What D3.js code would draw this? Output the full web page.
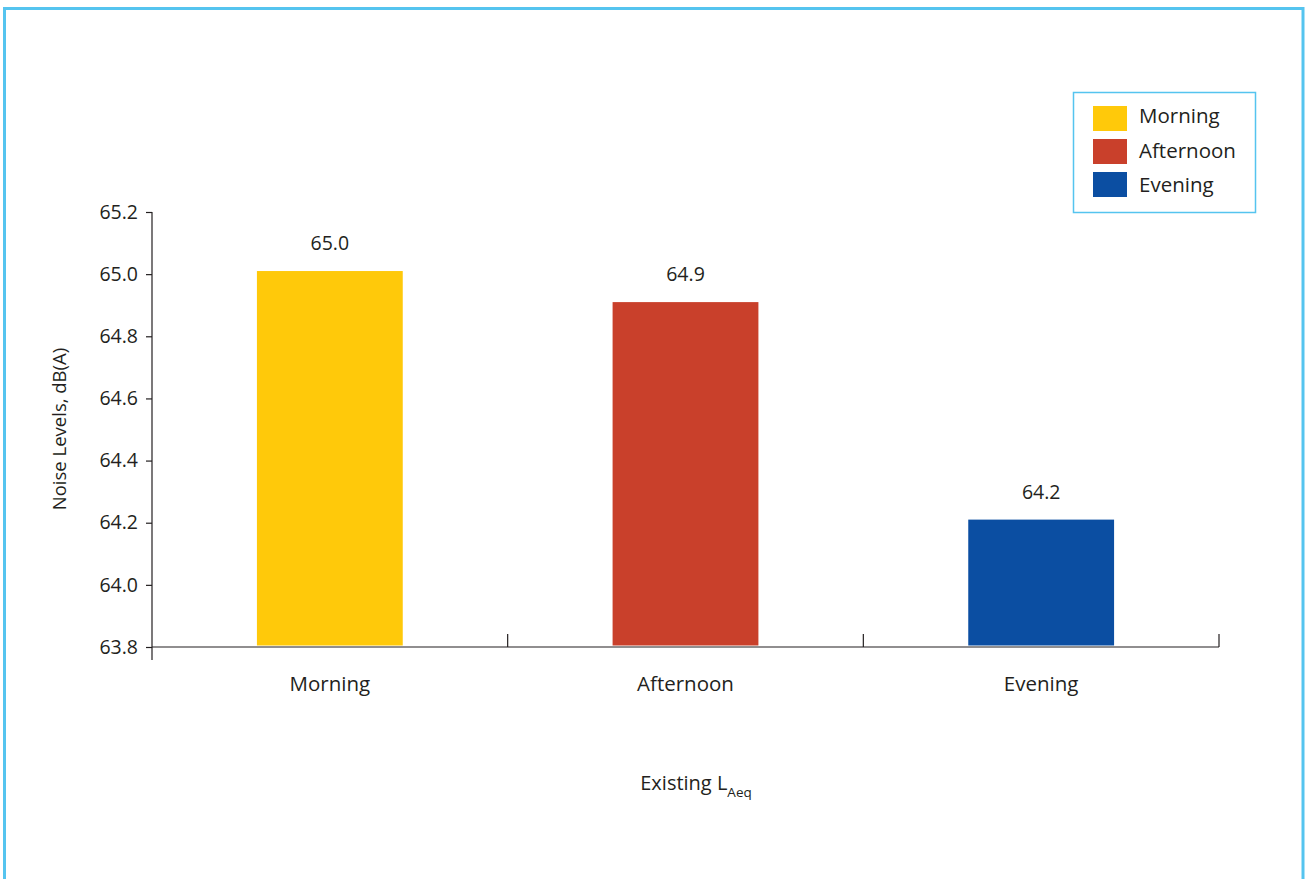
<!DOCTYPE html>
<html><head><meta charset="utf-8">
<script src="https://cdn.jsdelivr.net/npm/d3@7"></script>
<style>body{margin:0;background:#fff}svg{display:block}text{font-family:"Open Sans","Noto Sans",sans-serif;fill:#231f20}</style>
</head><body>
<script>
const categories = ["Morning", "Afternoon", "Evening"];
const values = [65.01, 64.91, 64.21];
const valueLabels = ["65.0", "64.9", "64.2"];
const colors = ["#ffc90a", "#c9402b", "#0b4ea2"];
const yTicks = [63.8, 64.0, 64.2, 64.4, 64.6, 64.8, 65.0, 65.2];

const W = 1305, H = 879;
const svg = d3.select("body").append("svg").attr("width", W).attr("height", H);

// outer frame
svg.append("rect").attr("x", 4.5).attr("y", 8.5).attr("width", 1298.5).attr("height", 900)
  .attr("fill", "none").attr("stroke", "#55c4ef").attr("stroke-width", 3);

const x0 = 152, x1 = 1219, yTop = 212, yBot = 647;
const x = d3.scaleBand().domain(categories).range([x0, x1]).paddingInner(0).paddingOuter(0);
const y = d3.scaleLinear().domain([63.8, 65.2]).range([yBot, yTop]);
const barW = x.bandwidth() * 0.41;

// bars
svg.selectAll("rect.bar").data(categories).enter().append("rect").attr("class", "bar")
  .attr("x", d => x(d) + x.bandwidth() / 2 - barW / 2)
  .attr("y", (d, i) => y(values[i]))
  .attr("width", barW)
  .attr("height", (d, i) => y(63.8) - 1.5 - y(values[i]))
  .attr("fill", (d, i) => colors[i]);

// value labels
svg.selectAll("text.val").data(categories).enter().append("text").attr("class", "val")
  .attr("x", d => x(d) + x.bandwidth() / 2)
  .attr("y", (d, i) => y(values[i]) - 21)
  .attr("text-anchor", "middle").attr("font-size", 19.5)
  .text((d, i) => valueLabels[i]);

// y axis
const yAxis = d3.axisLeft(y).tickValues(yTicks).tickFormat(d3.format(".1f")).tickSize(6).tickPadding(8);
const gy = svg.append("g").attr("transform", `translate(${x0},0)`).call(yAxis);
gy.select(".domain").remove();
gy.selectAll(".tick line").attr("stroke", "#231f20").attr("stroke-width", 1.2);
gy.selectAll(".tick text").attr("font-size", 19.5).attr("fill", "#231f20").style("font-family", '"Open Sans","Noto Sans",sans-serif');
svg.append("line").attr("x1", x0).attr("x2", x0).attr("y1", yTop).attr("y2", yBot + 13)
  .attr("stroke", "#231f20").attr("stroke-width", 1.2);

// x axis
svg.append("line").attr("x1", x0).attr("x2", x1).attr("y1", yBot).attr("y2", yBot)
  .attr("stroke", "#231f20").attr("stroke-width", 1.2);
const bounds = categories.slice(1).map(c => x(c)).concat([x1]);
svg.selectAll("line.xt").data(bounds).enter().append("line").attr("class", "xt")
  .attr("x1", d => d).attr("x2", d => d).attr("y1", yBot).attr("y2", yBot - 13)
  .attr("stroke", "#231f20").attr("stroke-width", 1.2);
svg.selectAll("text.cat").data(categories).enter().append("text").attr("class", "cat")
  .attr("x", d => x(d) + x.bandwidth() / 2).attr("y", 691)
  .attr("text-anchor", "middle").attr("font-size", 20.5).text(d => d);

// axis titles
svg.append("text").attr("transform", "translate(66,429) rotate(-90)")
  .attr("text-anchor", "middle").attr("font-size", 18.5).text("Noise Levels, dB(A)");
const xt = svg.append("text").attr("x", 696).attr("y", 790).attr("text-anchor", "middle").attr("font-size", 20);
xt.append("tspan").text("Existing L");
xt.append("tspan").attr("dy", 7).attr("font-size", 13.5).text("Aeq");

// legend
const lg = svg.append("g");
lg.append("rect").attr("x", 1073.5).attr("y", 92.5).attr("width", 182).attr("height", 120)
  .attr("fill", "#fff").attr("stroke", "#55c4ef").attr("stroke-width", 1.5);
categories.forEach((c, i) => {
  lg.append("rect").attr("x", 1093).attr("y", 106 + i * 33).attr("width", 34).attr("height", 25).attr("fill", colors[i]);
  lg.append("text").attr("x", 1139).attr("y", 123 + i * 34.5).attr("font-size", 20.5).text(c);
});
</script>
</body></html>
